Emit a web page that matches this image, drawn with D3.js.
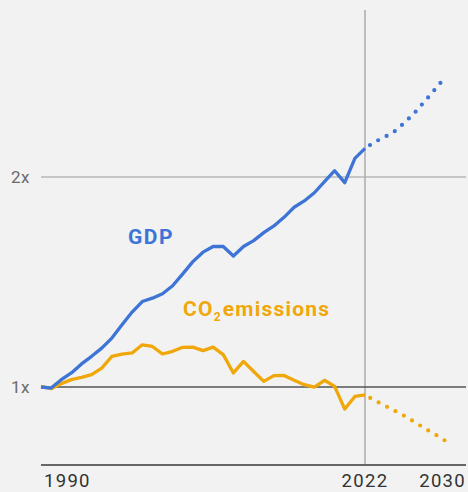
<!DOCTYPE html>
<html>
<head>
<meta charset="utf-8">
<script src="https://cdn.jsdelivr.net/npm/d3@7"></script>
<style>
  body { margin: 0; background: #f2f2f2; }
  svg { display: block; font-family: Roboto, "Open Sans", sans-serif; }
</style>
</head>
<body>
<div id="chart"></div>
<script>
// Index, 1990 = 1x
const years = d3.range(1990, 2023);
const gdp = [1.0, 0.995, 1.035, 1.067, 1.11, 1.146, 1.185, 1.233, 1.296, 1.357,
  1.407, 1.423, 1.444, 1.482, 1.539, 1.597, 1.642, 1.669, 1.669, 1.624,
  1.669, 1.697, 1.735, 1.767, 1.808, 1.856, 1.886, 1.925, 1.978, 2.03,
  1.973, 2.089, 2.136];
const co2 = [1.003, 0.992, 1.016, 1.035, 1.046, 1.059, 1.09, 1.146, 1.157, 1.162,
  1.201, 1.193, 1.157, 1.17, 1.189, 1.19, 1.173, 1.19, 1.154, 1.067,
  1.122, 1.074, 1.027, 1.054, 1.055, 1.032, 1.011, 0.999, 1.032, 1.003,
  0.895, 0.955, 0.962];

// Outlook 2022-2030
const projYears = d3.range(2022, 2031);
const gdpProj = [2.136, 2.168, 2.192, 2.22, 2.263, 2.311, 2.366, 2.422, 2.48];
const co2Proj = [0.962, 0.935, 0.91, 0.885, 0.86, 0.83, 0.80, 0.772, 0.742];

const yTicks = [1, 2];
const yTickLabels = ['1x', '2x'];
const xTicks = [1990, 2022, 2030];

const width = 468;
const height = 492;

const svg = d3.select('#chart')
    .append('svg')
    .attr('width', width)
    .attr('height', height);

const x = d3.scaleLinear().domain([1990, 2030]).range([41, 446]);
const y = d3.scaleLinear().domain([1, 2]).range([387, 177]);

const left = 41, right = 466, bottom = 465;

// 2x gridline
svg.append('line')
    .attr('x1', left).attr('x2', right)
    .attr('y1', y(2)).attr('y2', y(2))
    .attr('stroke', '#9a9a9a')
    .attr('stroke-width', 1.2);

// 2022 divider
svg.append('line')
    .attr('x1', x(2022)).attr('x2', x(2022))
    .attr('y1', 10).attr('y2', bottom)
    .attr('stroke', '#ababab')
    .attr('stroke-width', 1.5);

// baseline at 1x
svg.append('line')
    .attr('x1', left).attr('x2', right)
    .attr('y1', y(1)).attr('y2', y(1))
    .attr('stroke', '#555')
    .attr('stroke-width', 1.5);

// bottom axis line
svg.append('line')
    .attr('x1', left).attr('x2', right)
    .attr('y1', bottom).attr('y2', bottom)
    .attr('stroke', '#666')
    .attr('stroke-width', 2);

// y labels
svg.selectAll('.ylab')
    .data(yTicks)
    .enter()
    .append('text')
    .attr('class', 'ylab')
    .attr('x', 30)
    .attr('y', d => y(d))
    .attr('dy', '0.36em')
    .attr('text-anchor', 'end')
    .attr('font-size', 17)
    .attr('letter-spacing', 0.5)
    .attr('fill', '#6b6b6b')
    .text((d, i) => yTickLabels[i]);

// x labels
svg.selectAll('.xlab')
    .data(xTicks)
    .enter()
    .append('text')
    .attr('class', 'xlab')
    .attr('x', d => d === 1990 ? x(d) + 3 : d === 2030 ? right : x(d))
    .attr('y', 487)
    .attr('text-anchor', d => d === 1990 ? 'start' : d === 2030 ? 'end' : 'middle')
    .attr('font-size', 18.5)
    .attr('letter-spacing', 1.3)
    .attr('fill', '#333')
    .text(d => d);

const line = d3.line()
    .x(d => x(d[0]))
    .y(d => y(d[1]));

const blue = '#3d74d6';
const orange = '#f0a70a';

// projections (dotted)
[[gdpProj, blue], [co2Proj, orange]].forEach(([vals, color]) => {
    svg.append('path')
        .datum(projYears.map((yr, i) => [yr, vals[i]]))
        .attr('d', line)
        .attr('fill', 'none')
        .attr('stroke', color)
        .attr('stroke-width', 4.2)
        .attr('stroke-linecap', 'round')
        .attr('stroke-dasharray', '0 9.5')
        .attr('stroke-dashoffset', -6);
});

// history (solid)
[[co2, orange], [gdp, blue]].forEach(([vals, color]) => {
    svg.append('path')
        .datum(years.map((yr, i) => [yr, vals[i]]))
        .attr('d', line)
        .attr('fill', 'none')
        .attr('stroke', color)
        .attr('stroke-width', 3.3)
        .attr('stroke-linejoin', 'round');
});

// series labels
svg.append('text')
    .attr('x', 128)
    .attr('y', 244)
    .attr('font-size', 21)
    .attr('font-weight', 700)
    .attr('letter-spacing', 1.5)
    .attr('fill', blue)
    .text('GDP');

const co2Label = svg.append('text')
    .attr('x', 183)
    .attr('y', 316)
    .attr('font-size', 21)
    .attr('font-weight', 700)
    .attr('letter-spacing', 1.2)
    .attr('fill', orange);
co2Label.append('tspan').text('CO');
co2Label.append('tspan').attr('font-size', 12).attr('dy', 5).text('2');
co2Label.append('tspan').attr('dy', -5).attr('dx', 1).text('emissions');
</script>
</body>
</html>
